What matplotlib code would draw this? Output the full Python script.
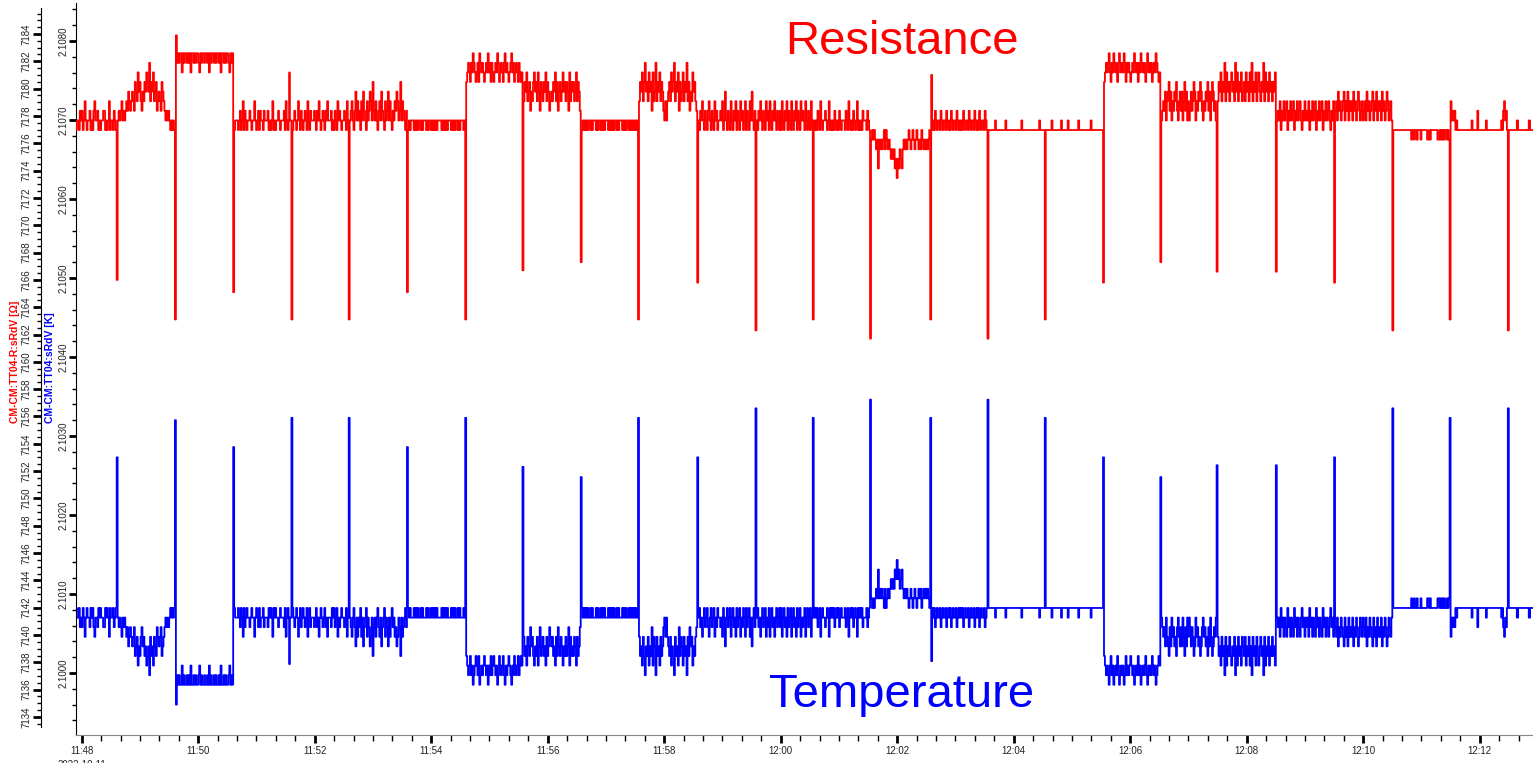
import matplotlib
matplotlib.use("Agg")
import matplotlib.pyplot as plt
from matplotlib.ticker import MultipleLocator, FuncFormatter, FormatStrFormatter, FixedLocator

plt.rcParams['font.family'] = ['Liberation Sans', 'DejaVu Sans']

# ---------------- data ----------------
DATE = "2022-10-11"
T_START = "11:47:54"
T_END = "12:12:56"

# quantised reading levels: code char (hex) -> value
R_LEVELS = [7173.46, 7174.16, 7174.86, 7175.56, 7176.27, 7176.97, 7177.67,
            7178.38, 7179.08, 7179.78, 7180.49, 7181.19, 7181.89, 7182.59]
T_LEVELS = [2.101431, 2.101309, 2.101188, 2.101066, 2.100945, 2.100823, 2.100701,
            2.100580, 2.100458, 2.100337, 2.100215, 2.100094, 2.099972, 2.099851]

# level codes (about one per second) for each stretch between two spikes
SEG_CODES = [
    "566576756865667565786675656677565685665765",
    "676786767879878987A98B9A8798A9BA9C8A9B89A78987A9876767656565",
    "DCDCDDBDCDDCDCDBDDCDCDDCBDCDDCDDCDBDCDDCDCDDCDBDDCDCDDCBDCD",
    "566656756857656676566865675766576667565685656676566675865666",
    "567656865765676586576667657686567657686667565765867656676586",
    "678657968675869765867986A7686578697658679686576879867A687657",
    "565666565656656566656566565656566665656565666565656656566656",
    "ABCBACBDCBABCADCBCBABCBDBCACBABCBDCABCBACDBCBABCDBCABCBACBAB",
    "8A9B89A798AB9A8B97A98A9B8A97898A9B8A79A89B9A8A97B8A9A89B8A97",
    "565656566565666565665656566656565656656566656565665656565656",
    "8A9B8AC9A8B9A7B89C8A9B8A9768689A8B9AC8A9B7A89B8A9C8A798B9A87",
    "657686576578657658675667685696576586576857658675685765869657",
    "657686576586758657686576575865768576586576857658676586576586",
    "656576586566765685656576565765666576586565765685656576665765",
    "454543414343453543432323120213213434345434543454343543434345",
    "656576566576566576565765665765656576566576566576565765665765",
    "555555565555555555655555555555555556555555555555555555655555",
    "555555655555555565555556555555555565555555555556555555555555",
    "ABCBCDBACBDCBCABDCBCBDCACBCBABCBDCBCACBDCBCBACDBCBCABCBDCBAB",
    "67879689A7968798A76897968A796867978A968798A9768798A7968A9786",
    "8A9B8A9C8B9A8AB9A8C9B8A9B89A8B9A8B9C8A9B8AB98A9C8B9A8B9A8A9B",
    "676857686785768678576867865768676857686785768678576867865768",
    "786978678968796878697867986786786978678968796878697867986786",
    "555555555555555555545545545554555555445455555554454545455454",
    "867675655555555555555565555575555555565555555555555556578675",
    "5555556555555556555",
]

SPIKE_TIMES = ["11:48:36", "11:49:36", "11:50:36", "11:51:36", "11:52:35",
               "11:53:35", "11:54:35", "11:55:34", "11:56:34", "11:57:33",
               "11:58:34", "11:59:34", "12:00:33", "12:01:32", "12:02:34",
               "12:03:33", "12:04:32", "12:05:32", "12:06:31", "12:07:29",
               "12:08:30", "12:09:30", "12:10:30", "12:11:29", "12:12:29"]
SPIKE_R = [7166.0, 7163.1, 7165.1, 7163.1, 7163.1, 7165.1, 7163.1, 7166.7,
           7167.3, 7163.1, 7165.8, 7162.3, 7163.1, 7161.7, 7163.1, 7161.7,
           7163.1, 7165.8, 7167.3, 7166.6, 7166.6, 7165.8, 7162.3, 7163.1,
           7162.3]
SPIKE_T = [2.10273, 2.10320, 2.10286, 2.10323, 2.10323, 2.10286, 2.10323,
           2.10261, 2.10248, 2.10323, 2.10273, 2.10335, 2.10323, 2.10346,
           2.10323, 2.10346, 2.10323, 2.10273, 2.10248, 2.10263, 2.10263,
           2.10273, 2.10335, 2.10323, 2.10335]

# single overshoot samples (time, resistance, temperature)
EXTRA_TIMES = ["11:49:37", "11:51:34", "12:02:35"]
EXTRA_R = [7183.9, 7181.2, 7181.0]
EXTRA_T = [2.09960, 2.10011, 2.10015]

R_TICKS = list(range(7134, 7185, 2))
TITLE_R = "Resistance"
TITLE_T = "Temperature"
LABEL_R = "CM-CM:TT04-R:sRdV [Ω]"
LABEL_T = "CM-CM:TT04:sRdV [K]"

# ---------------- build series ----------------
REF = 11 * 3600 + 48 * 60


def secs(s):
    h, m, x = map(int, s.split(":"))
    return h * 3600 + m * 60 + x - REF


bounds = [secs(T_START)] + [secs(t) for t in SPIKE_TIMES] + [secs(T_END)]
pts = []
for j, seg in enumerate(SEG_CODES):
    a, b = bounds[j], bounds[j + 1]
    start = a + (1 if j > 0 else 0)
    n = len(seg)
    for i, c in enumerate(seg):
        k = int(c, 16)
        pts.append((start + i * (b - start) / n, R_LEVELS[k], T_LEVELS[k]))
    if j < len(SPIKE_TIMES):
        pts.append((b, SPIKE_R[j], SPIKE_T[j]))
for tt, rr, te in zip(EXTRA_TIMES, EXTRA_R, EXTRA_T):
    pts.append((secs(tt) + 0.01, rr, te))
pts.sort(key=lambda p: p[0])
xs = [p[0] for p in pts]
rs = [p[1] for p in pts]
ts = [p[2] for p in pts]

# ---------------- figure ----------------
W, H = 1533, 763
fig = plt.figure(figsize=(W / 100, H / 100), dpi=100)
left, right, top, bottom = 76, 1533, 3, 735
axT = fig.add_axes([left / W, (H - bottom) / H, (right - left) / W, (bottom - top) / H])
axR = axT.twinx()

axT.plot(xs, ts, color="#0000ff", lw=1.3, drawstyle="steps-post")
axR.plot(xs, rs, color="#ff0000", lw=1.3, drawstyle="steps-post")

axT.set_xlim(-5.9, 1494.9)
axT.set_ylim(2.099215, 2.108481)
axR.set_ylim(7132.68, 7186.27)

for sp in ["top", "right"]:
    axT.spines[sp].set_visible(False)
for sp in ["top", "right", "bottom"]:
    axR.spines[sp].set_visible(False)
axT.spines["bottom"].set_color("#888888")
axT.spines["left"].set_color("black")

axR.yaxis.tick_left()
axR.yaxis.set_label_position("left")
axR.spines["left"].set_visible(True)
axR.spines["left"].set_position(("outward", 35 * 0.72))
axR.spines["left"].set_bounds(7133.27, 7185.9)


# x ticks
def xfmt(v, pos):
    t = int(round(v)) + REF
    s = "%02d:%02d" % (t // 3600, (t % 3600) // 60)
    if int(round(v)) == 0:
        s += "\n" + DATE
    return s


axT.xaxis.set_major_locator(MultipleLocator(120))
axT.xaxis.set_minor_locator(MultipleLocator(20))
axT.xaxis.set_major_formatter(FuncFormatter(xfmt))
axT.tick_params(axis="x", which="major", length=6, width=2, labelsize=7,
                labelcolor="#222222", pad=2)
axT.tick_params(axis="x", which="minor", length=4, width=1)
for lab in axT.get_xticklabels():
    lab.set_linespacing(1.5)

# y ticks
axT.yaxis.set_major_locator(MultipleLocator(0.001))
axT.yaxis.set_minor_locator(MultipleLocator(0.0002))
axT.yaxis.set_major_formatter(FormatStrFormatter("%.4f"))
axT.tick_params(axis="y", which="major", length=5, width=2, labelsize=7,
                labelcolor="#222222", labelrotation=90, pad=0.5)
axT.tick_params(axis="y", which="minor", length=3, width=1)

axR.yaxis.set_major_locator(FixedLocator(R_TICKS))
axR.yaxis.set_minor_locator(FixedLocator([v / 2 for v in range(2 * 7133 + 1, 2 * 7186)]))
axR.yaxis.set_major_formatter(FormatStrFormatter("%d"))
axR.tick_params(axis="y", which="major", length=6, width=2, labelsize=7,
                labelcolor="#222222", labelrotation=90, pad=0.5)
axR.tick_params(axis="y", which="minor", length=3, width=1)

for ax in (axT, axR):
    for lab in ax.get_yticklabels():
        lab.set_va("center")

axR.set_ylabel(LABEL_R, color="#ff0000", fontweight="bold", fontsize=7.5)
axT.set_ylabel(LABEL_T, color="#0000ff", fontweight="bold", fontsize=7.5)
axR.yaxis.label.set_va("center")
axT.yaxis.label.set_va("center")
axR.yaxis.set_label_coords((15 - left) / (right - left), (bottom - 362) / (bottom - top))
axT.yaxis.set_label_coords((50 - left) / (right - left), (bottom - 368) / (bottom - top))

fig.text(902 / W, 1 - 54 / H, TITLE_R, color="#ff0000", fontsize=34,
         ha="center", va="baseline")
fig.text(902 / W, 1 - 707 / H, TITLE_T, color="#0000ff", fontsize=34,
         ha="center", va="baseline")

fig.savefig("out.png", dpi=100)
